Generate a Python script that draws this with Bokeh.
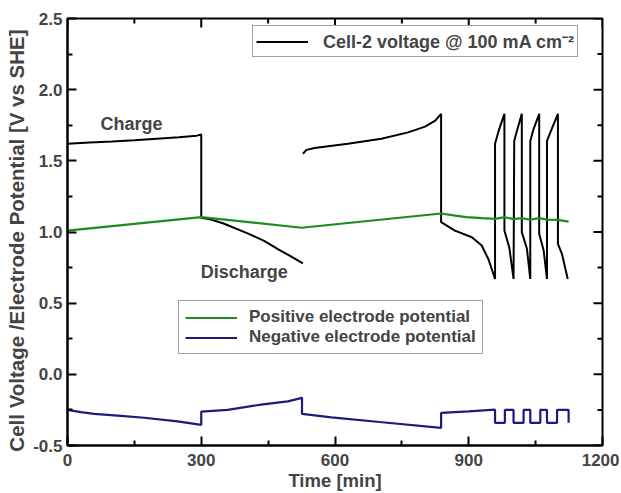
import math
from bokeh.plotting import figure
from bokeh.models import (FixedTicker, PrintfTickFormatter, Legend,
                          LegendItem, Label, Range1d)
from bokeh.embed import file_html
from bokeh.resources import INLINE

nan = float("nan")

# Cell-2 voltage (V) vs time (min); NaN marks the break between cycles
cell_time = [0, 50, 100, 150, 200, 250, 290, 300,
             300, 320, 350, 404, 440, 472, 500, 528,
             nan,
             528, 536, 554, 629, 704, 764, 802, 824, 838,
             838, 869, 907, 929, 944, 959,
             959, 967, 980, 980, 991, 1000.5,
             1002, 1008, 1019, 1019, 1030.5, 1038,
             1038, 1045.5, 1058, 1058, 1068, 1075.5,
             1075.5, 1083, 1100, 1100, 1109, 1122]
cell_voltage = [1.62, 1.628, 1.636, 1.645, 1.655, 1.665, 1.677, 1.685,
                1.10, 1.09, 1.06, 0.99, 0.94, 0.88, 0.83, 0.78,
                nan,
                1.55, 1.577, 1.59, 1.62, 1.655, 1.70, 1.74, 1.78, 1.83,
                1.07, 1.01, 0.963, 0.905, 0.81, 0.67,
                1.62, 1.71, 1.83, 1.01, 0.89, 0.67,
                1.64, 1.71, 1.83, 0.998, 0.882, 0.67,
                1.64, 1.725, 1.83, 0.987, 0.87, 0.67,
                1.64, 1.70, 1.83, 0.917, 0.847, 0.67]

# Positive electrode potential (V vs SHE)
pos_time = [0, 300, 525, 838, 870, 894, 930, 959, 981, 1000, 1019, 1038,
            1058, 1076, 1100, 1124]
pos_potential = [1.01, 1.105, 1.03, 1.13, 1.115, 1.104, 1.097, 1.092, 1.104,
                 1.09, 1.098, 1.086, 1.097, 1.087, 1.085, 1.073]

# Negative electrode potential (V vs SHE)
neg_time = [0, 30, 60, 120, 172, 247, 300,
            300, 359, 434, 494, 526,
            526, 592, 700, 838,
            838, 900, 959,
            959, 981, 981, 1000.5, 1000.5, 1023, 1023, 1038, 1038, 1060.5,
            1060.5, 1075.5, 1075.5, 1098, 1098, 1124, 1124]
neg_potential = [-0.25, -0.266, -0.278, -0.292, -0.305, -0.33, -0.355,
                 -0.262, -0.25, -0.213, -0.19, -0.165,
                 -0.278, -0.302, -0.335, -0.376,
                 -0.271, -0.26, -0.248,
                 -0.341, -0.341, -0.25, -0.25, -0.341, -0.341, -0.25, -0.25,
                 -0.341, -0.341, -0.25, -0.25, -0.341, -0.341, -0.25, -0.25,
                 -0.341]

x_ticks = [0, 300, 600, 900, 1200]
x_minor = [150, 450, 750, 1050]
y_ticks = [-0.5, 0.0, 0.5, 1.0, 1.5, 2.0, 2.5]
y_minor = [-0.25, 0.25, 0.75, 1.25, 1.75, 2.25]
X_MIN, X_MAX = 0, 1200
Y_MIN, Y_MAX = -0.5, 2.5

FONT = "Liberation Sans"
GREEN = "#1f8a1f"
NAVY = "#1b1b7d"
FRAME_W, FRAME_H = 535, 427

p = figure(frame_width=FRAME_W, frame_height=FRAME_H, output_backend="svg",
           toolbar_location=None,
           x_range=Range1d(X_MIN, X_MAX), y_range=Range1d(Y_MIN, Y_MAX),
           min_border_left=67, min_border_right=17, min_border_top=18,
           min_border_bottom=46)
p.xgrid.visible = False
p.ygrid.visible = False
p.outline_line_color = "black"
p.outline_line_width = 2
p.background_fill_color = "white"
p.border_fill_color = "white"

r_cell = p.line(cell_time, cell_voltage, line_color="black", line_width=2)
r_pos = p.line(pos_time, pos_potential, line_color=GREEN, line_width=2.2)
r_neg = p.line(neg_time, neg_potential, line_color=NAVY, line_width=2.2)

# inward ticks on the top and right sides (pixel lengths in data units)
px_x = (X_MAX - X_MIN) / FRAME_W
px_y = (Y_MAX - Y_MIN) / FRAME_H


def vticks(xs, y0, dy):
    p.segment(x0=xs, y0=[y0] * len(xs), x1=xs, y1=[y0 + dy] * len(xs),
              line_color="black", line_width=2)


def hticks(ys, x0, dx):
    p.segment(x0=[x0] * len(ys), y0=ys, x1=[x0 + dx] * len(ys), y1=ys,
              line_color="black", line_width=2)


vticks(x_ticks, Y_MAX, -9 * px_y)
vticks(x_minor, Y_MAX, -5 * px_y)
hticks(y_ticks, X_MAX, -9 * px_x)
hticks(y_minor, X_MAX, -5 * px_x)


def style_axis(ax):
    ax.axis_line_width = 2
    ax.major_tick_in = 9
    ax.major_tick_out = 0
    ax.minor_tick_in = 5
    ax.minor_tick_out = 0
    ax.major_tick_line_width = 2
    ax.minor_tick_line_width = 2
    ax.major_tick_line_color = "black"
    ax.minor_tick_line_color = "black"
    ax.major_label_text_font = FONT
    ax.major_label_text_font_style = "bold"
    ax.major_label_text_font_size = "17px"
    ax.axis_label_text_font = FONT
    ax.axis_label_text_font_style = "bold"
    ax.axis_label_text_font_size = "20.5px"


xax = p.xaxis[0]
xax.ticker = FixedTicker(ticks=x_ticks, minor_ticks=x_minor)
style_axis(xax)
xax.axis_label = "Time [min]"
xax.axis_label_text_font_size = "18.5px"
xax.major_label_standoff = 8
xax.axis_label_standoff = 1

yax = p.yaxis[0]
yax.ticker = FixedTicker(ticks=y_ticks, minor_ticks=y_minor)
yax.formatter = PrintfTickFormatter(format="%.1f")
style_axis(yax)
yax.axis_label = "Cell Voltage /Electrode Potential    [V vs SHE]"
yax.major_label_standoff = 5
yax.axis_label_standoff = 2


def style_legend(lg, size):
    lg.label_text_font = FONT
    lg.label_text_font_style = "bold"
    lg.label_text_font_size = size
    lg.border_line_color = "#444444"
    lg.border_line_width = 1
    lg.background_fill_color = "white"
    lg.background_fill_alpha = 1.0
    lg.margin = 0


leg_top = Legend(items=[LegendItem(label="Cell-2 voltage @ 100 mA cm\u207b\u00b2",
                                   renderers=[r_cell])],
                 location=(185, 388))
style_legend(leg_top, "18px")
leg_top.padding = 3
leg_top.glyph_width = 52
leg_top.glyph_height = 15
leg_top.label_height = 15
leg_top.label_standoff = 15
p.add_layout(leg_top, "center")

leg_bot = Legend(items=[LegendItem(label="Positive electrode potential", renderers=[r_pos]),
                        LegendItem(label="Negative electrode potential", renderers=[r_neg])],
                 location=(111, 91))
style_legend(leg_bot, "17px")
leg_bot.padding = 6
leg_bot.glyph_width = 52
leg_bot.glyph_height = 15
leg_bot.label_height = 15
leg_bot.spacing = 0
leg_bot.label_standoff = 12
p.add_layout(leg_bot, "center")

p.add_layout(Label(x=74, y=1.76, text="Charge", text_font=FONT,
                   text_font_style="bold", text_font_size="18px",
                   text_baseline="middle"))
p.add_layout(Label(x=299, y=0.72, text="Discharge", text_font=FONT,
                   text_font_style="bold", text_font_size="18px",
                   text_baseline="middle"))

open("out.html", "w").write(file_html(p, INLINE))
